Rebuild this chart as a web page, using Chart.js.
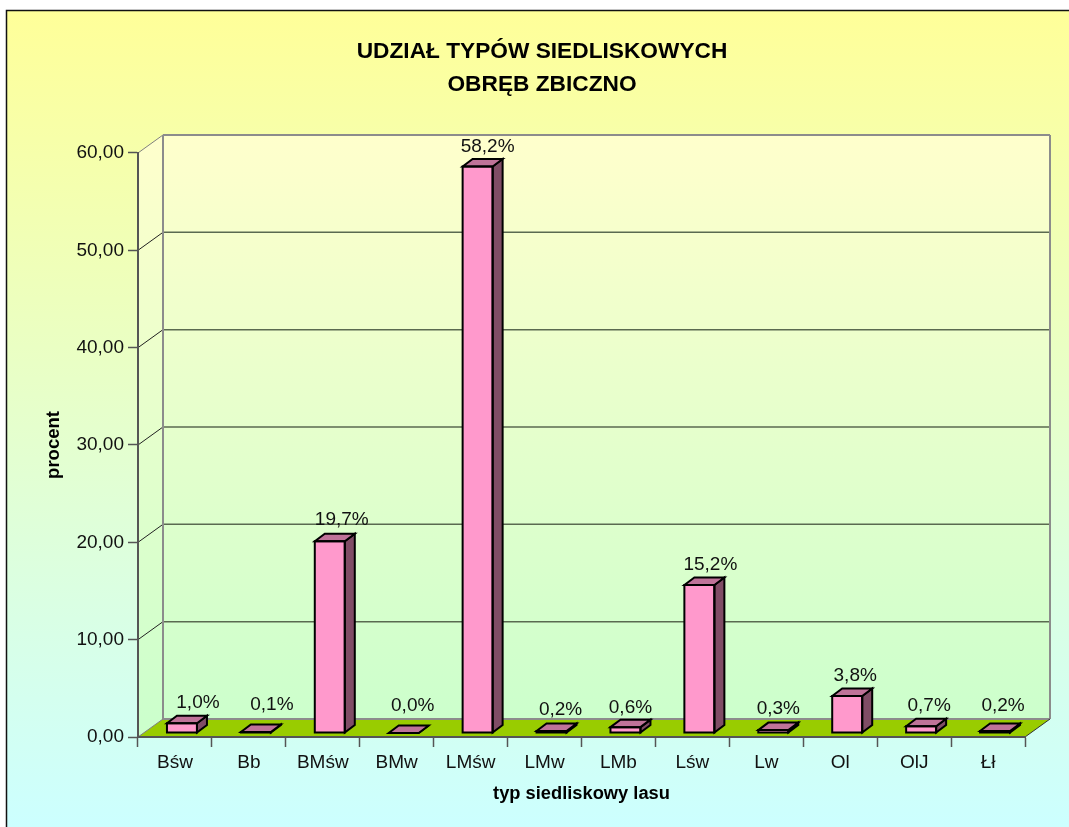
<!DOCTYPE html>
<html lang="pl">
<head>
<meta charset="UTF-8">
<title>Udział typów siedliskowych</title>
<script src="https://cdn.jsdelivr.net/npm/chart.js"></script>
<style>
  html, body { margin: 0; padding: 0; background: #fff; overflow: hidden; }
  canvas { display: block; }
</style>
</head>
<body>
<canvas id="chart" width="1069" height="827"></canvas>
<script>
const categories = ['Bśw', 'Bb', 'BMśw', 'BMw', 'LMśw', 'LMw', 'LMb', 'Lśw', 'Lw', 'Ol', 'OlJ', 'Łł'];
const percentValues = [1.0, 0.1, 19.7, 0.0, 58.2, 0.2, 0.6, 15.2, 0.3, 3.8, 0.7, 0.2];
const titleLines = ['UDZIAŁ TYPÓW SIEDLISKOWYCH', 'OBRĘB ZBICZNO'];

const fontFamily = '"Liberation Sans", Arial, sans-serif';
const comma = (v, digits) => v.toFixed(digits).replace('.', ',');

// walls and floor sit behind the plot, shifted back by this much
const wallDepth = { x: 25, y: -18 };
// bars stand a bit inside the floor and have their own depth
const barShift = { x: 7, y: -4 };
const barDepth = { x: 10, y: -7.5 };
// hand tweaks for the value labels, same order as categories
const labelNudgeX = [16, 16, 12, 9, 10, 9, 5, 11, 5, 8, 8, 8];
const labelNudgeY = [-13, -20, -14, -20, -12, -14, -12, -13, -14, -13, -13, -18];

function poly(ctx, pts, fill, stroke, lineWidth) {
  ctx.beginPath();
  pts.forEach((p, i) => (i ? ctx.lineTo(p[0], p[1]) : ctx.moveTo(p[0], p[1])));
  ctx.closePath();
  if (fill) { ctx.fillStyle = fill; ctx.fill(); }
  if (stroke) { ctx.strokeStyle = stroke; ctx.lineWidth = lineWidth; ctx.stroke(); }
}

const scenePlugin = {
  id: 'scene',
  beforeDraw(chart) {
    const { ctx, width, height, chartArea: a } = chart;
    const dx = wallDepth.x, dy = wallDepth.y;
    ctx.save();

    // page background with the thin frame on the left and top
    const bg = ctx.createLinearGradient(0, 11, 0, height);
    bg.addColorStop(0, '#FFFF99');
    bg.addColorStop(1, '#CCFFFF');
    ctx.fillStyle = bg;
    ctx.fillRect(7, 11, width - 7, height - 11);
    ctx.strokeStyle = '#111';
    ctx.lineWidth = 1.5;
    ctx.beginPath();
    ctx.moveTo(6.5, height);
    ctx.lineTo(6.5, 10.5);
    ctx.lineTo(width, 10.5);
    ctx.stroke();

    // back and left walls
    const wall = ctx.createLinearGradient(0, a.top + dy, 0, a.bottom + dy);
    wall.addColorStop(0, '#FFFFCC');
    wall.addColorStop(1, '#CCFFCC');
    poly(ctx, [[a.left, a.top], [a.left + dx, a.top + dy], [a.left + dx, a.bottom + dy], [a.left, a.bottom]], wall);
    poly(ctx, [[a.left + dx, a.top + dy], [a.right + dx, a.top + dy], [a.right + dx, a.bottom + dy], [a.left + dx, a.bottom + dy]], wall);

    // floor
    poly(ctx, [[a.left, a.bottom], [a.left + dx, a.bottom + dy], [a.right + dx, a.bottom + dy], [a.right, a.bottom]], '#99CC00');

    // grid lines run along the left wall and the back wall
    const yScale = chart.scales.y;
    yScale.ticks.forEach(t => {
      const y = yScale.getPixelForValue(t.value);
      const isEdge = t.value === yScale.max || t.value === yScale.min;
      ctx.strokeStyle = isEdge ? '#808080' : '#222';
      ctx.lineWidth = 1;
      ctx.beginPath();
      ctx.moveTo(a.left, y);
      ctx.lineTo(a.left + dx, y + dy);
      ctx.stroke();
      ctx.strokeStyle = isEdge ? '#8C8C8C' : '#5A6A50';
      ctx.lineWidth = isEdge ? 2 : 1.5;
      ctx.beginPath();
      ctx.moveTo(a.left + dx, y + dy);
      ctx.lineTo(a.right + dx, y + dy);
      ctx.stroke();
    });

    // back wall verticals and the floor's right edge
    ctx.strokeStyle = '#8C8C8C';
    ctx.lineWidth = 2;
    ctx.beginPath();
    ctx.moveTo(a.left + dx, a.top + dy);
    ctx.lineTo(a.left + dx, a.bottom + dy);
    ctx.moveTo(a.right + dx, a.top + dy);
    ctx.lineTo(a.right + dx, a.bottom + dy);
    ctx.stroke();
    ctx.strokeStyle = '#333';
    ctx.lineWidth = 1;
    ctx.beginPath();
    ctx.moveTo(a.right, a.bottom);
    ctx.lineTo(a.right + dx, a.bottom + dy);
    ctx.stroke();
    ctx.restore();
  },
  beforeDatasetDraw(chart) {
    chart.ctx.save();
    chart.ctx.translate(barShift.x, barShift.y);
  },
  afterDatasetDraw(chart, args) {
    const ctx = chart.ctx;
    args.meta.data.forEach(bar => {
      const l = bar.x - bar.width / 2, r = bar.x + bar.width / 2;
      const dx = barDepth.x, dy = barDepth.y;
      ctx.lineJoin = 'miter';
      poly(ctx, [[r, bar.y], [r + dx, bar.y + dy], [r + dx, bar.base + dy], [r, bar.base]], '#804D66', '#000', 2);
      poly(ctx, [[l, bar.y], [l + dx, bar.y + dy], [r + dx, bar.y + dy], [r, bar.y]], '#BF7399', '#000', 2);
      // the native border collapses on the very low bars, so go over the front edge again
      poly(ctx, [[l, bar.y], [r, bar.y], [r, bar.base], [l, bar.base]], null, '#000', 2);
    });
    ctx.restore();
  },
  afterDatasetsDraw(chart) {
    const ctx = chart.ctx;
    const meta = chart.getDatasetMeta(0);
    ctx.save();
    ctx.font = '19px ' + fontFamily;
    ctx.fillStyle = '#111';
    ctx.textAlign = 'center';
    ctx.textBaseline = 'middle';
    meta.data.forEach((bar, i) => {
      const x = bar.x + barShift.x + labelNudgeX[i];
      const y = bar.y + barShift.y + barDepth.y + labelNudgeY[i];
      ctx.fillText(comma(percentValues[i], 1) + '%', x, y);
    });
    ctx.restore();
  }
};

new Chart(document.getElementById('chart'), {
  type: 'bar',
  data: {
    labels: categories,
    datasets: [{
      data: percentValues,
      backgroundColor: '#FF99CC',
      borderWidth: 0,
      barThickness: 30
    }]
  },
  options: {
    responsive: false,
    animation: false,
    layout: { padding: { left: 15, right: 0, top: 0, bottom: 0 } },
    plugins: {
      legend: { display: false },
      tooltip: { enabled: false },
      title: {
        display: true,
        text: titleLines,
        color: '#000',
        font: { family: fontFamily, size: 22.7, weight: 'bold', lineHeight: 1.42 },
        padding: { top: 36, bottom: 52.5 }
      }
    },
    scales: {
      x: {
        afterFit: s => { s.height = 90; },
        border: { color: '#555', width: 2 },
        grid: { drawOnChartArea: false, drawTicks: true, tickLength: 10, tickColor: '#555', tickWidth: 1.5 },
        ticks: { color: '#111', padding: 4, font: { family: fontFamily, size: 19 }, maxRotation: 0, autoSkip: false },
        title: {
          display: true,
          text: 'typ siedliskowy lasu',
          color: '#000',
          font: { family: fontFamily, size: 18.3, weight: 'bold' },
          padding: { top: 0, bottom: 22 }
        }
      },
      y: {
        min: 0,
        max: 60,
        afterFit: s => { s.width = 123; },
        border: { color: '#555', width: 2 },
        grid: { drawOnChartArea: false, drawTicks: true, tickLength: 10, tickColor: '#555', tickWidth: 1.5 },
        ticks: {
          stepSize: 10,
          color: '#111',
          padding: 4,
          font: { family: fontFamily, size: 19 },
          callback: v => comma(v, 2)
        },
        title: {
          display: true,
          text: 'procent',
          color: '#000',
          font: { family: fontFamily, size: 18.5, weight: 'bold' },
          padding: { top: 28, bottom: 0 }
        }
      },
      // empty axis, only reserves the strip right of the plot
      spacer: {
        position: 'right',
        display: true,
        afterFit: s => { s.width = 44; },
        border: { display: false },
        grid: { display: false },
        ticks: { display: false }
      }
    }
  },
  plugins: [scenePlugin]
});
</script>
</body>
</html>
